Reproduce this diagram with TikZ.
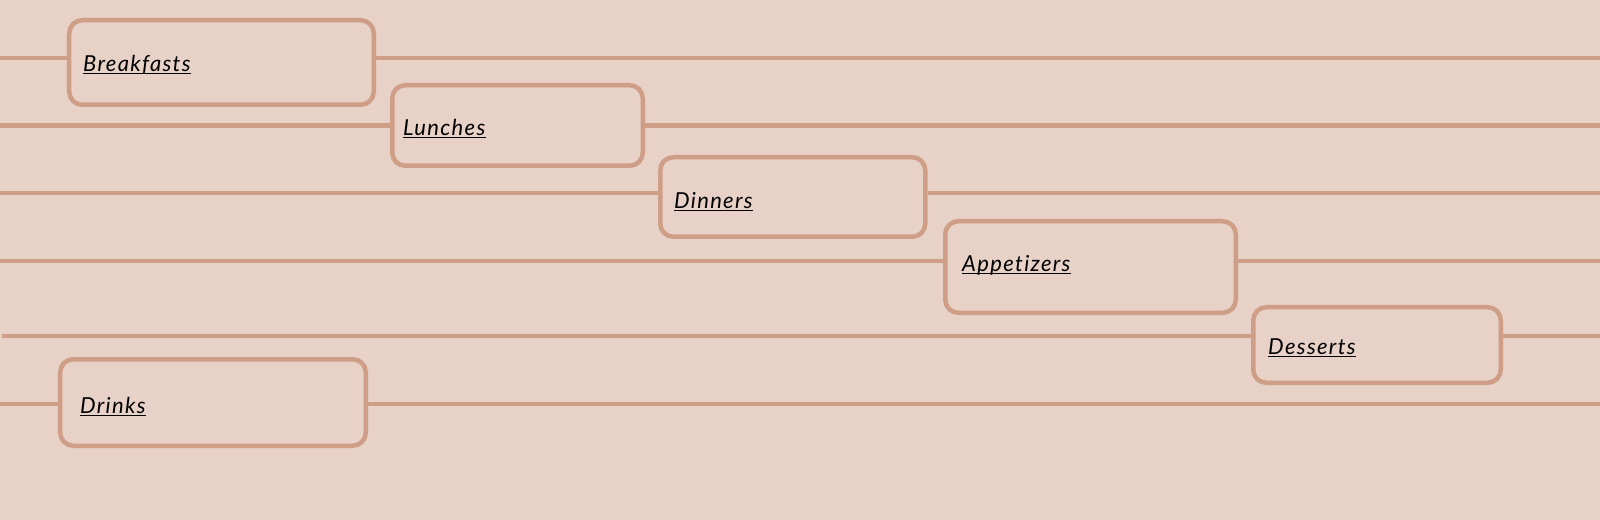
\documentclass[tikz,border=0pt]{standalone}
\usepackage{fontspec}
\setmainfont{Lato}[Ligatures={NoCommon},LetterSpace=6.0]
\definecolor{bg}{RGB}{232,209,198}
\definecolor{edge}{RGB}{206,158,134}
\tikzset{
  menubox/.style={draw=edge, line width=4.5bp, rounded corners=13bp, fill=bg, inner sep=0pt},
  rail/.style={draw=edge, line width=4.5bp},
  itemlabel/.style={anchor=base west, inner sep=0pt, font=\fontsize{22bp}{26bp}\selectfont\itshape, text=black},
  uline/.style={draw=black, line width=1.3bp}
}
\begin{document}
\begin{tikzpicture}[x=1bp,y=-1bp]
\fill[bg] (0,0) rectangle (1600,520);
\useasboundingbox (0,0) rectangle (1600,520);

% rail end points
\coordinate (r1l) at (0,58);    \coordinate (r1r) at (1600,58);
\coordinate (r2l) at (0,125.5); \coordinate (r2r) at (1600,125.5);
\coordinate (r3l) at (0,193);   \coordinate (r3r) at (1600,193);
\coordinate (r4l) at (0,261);   \coordinate (r4r) at (1600,261);
\coordinate (r5l) at (2,336);   \coordinate (r5r) at (1600,336);
\coordinate (r6l) at (0,404);   \coordinate (r6r) at (1600,404);

% boxes
\node[menubox, minimum width=304.5bp, minimum height=84.5bp] (b1) at (221.5,62.5) {};
\node[menubox, minimum width=250.5bp, minimum height=80.5bp] (b2) at (517.5,125.5) {};
\node[menubox, minimum width=265bp, minimum height=79.5bp] (b3) at (792.75,197) {};
\node[menubox, minimum width=290.5bp, minimum height=91.5bp] (b4) at (1090.5,267) {};
\node[menubox, minimum width=247.5bp, minimum height=75.5bp] (b5) at (1377,345) {};
\node[menubox, minimum width=305.5bp, minimum height=86.5bp] (b6) at (213,402.5) {};

% rails
\foreach \i in {1,...,6}{
  \draw[rail] (r\i l) -- (b\i.west |- r\i l);
  \draw[rail] (b\i.east |- r\i r) -- (r\i r);
}

% labels
\node[itemlabel] (t1) at (83,71.5) {Breakfasts};
\node[itemlabel] (t2) at (403,136) {Lunches};
\node[itemlabel] (t3) at (674,208.5) {Dinners};
\node[itemlabel] (t4) at (962,271.5) {Appetizers};
\node[itemlabel] (t5) at (1268,354.5) {Desserts};
\node[itemlabel] (t6) at (80,413.5) {Drinks};
\foreach \i in {1,...,6}{
  \draw[uline] ([yshift=-1.8bp]t\i.base west) -- ([yshift=-1.8bp]t\i.base east);
}
\end{tikzpicture}
\end{document}
